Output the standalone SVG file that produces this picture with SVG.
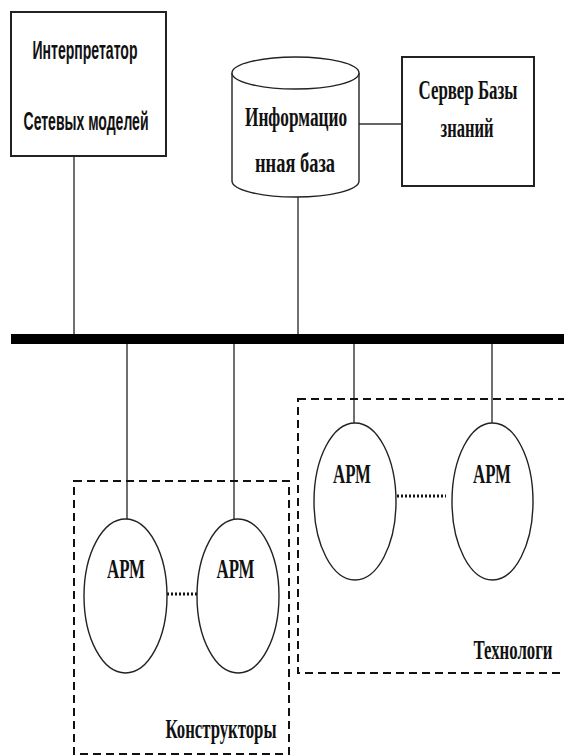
<svg xmlns="http://www.w3.org/2000/svg" width="564" height="756" viewBox="0 0 564 756">
<style>
.box{fill:#fff;stroke:#222;stroke-width:2}
.shape{fill:#fff;stroke:#222;stroke-width:1.4}
.conn{stroke:#333;stroke-width:1.4;fill:none}
.bus{stroke:#000;stroke-width:10}
.group{fill:none;stroke:#111;stroke-width:2;stroke-dasharray:8 5}
.dots{stroke:#111;stroke-width:3;stroke-dasharray:2 2}
.sans{font-family:"Liberation Sans","DejaVu Sans",sans-serif;font-weight:bold;font-size:15px;fill:#111;text-anchor:middle}
.serif{font-family:"Liberation Serif","DejaVu Serif",serif;font-weight:bold;font-size:16px;fill:#111;text-anchor:middle}
</style>
<rect width="564" height="756" fill="#fff"/>
<g id="connectors">
<line class="bus" x1="11" y1="339" x2="564" y2="339"/>
<line class="conn" x1="74" y1="156" x2="74" y2="334"/>
<line class="conn" x1="298" y1="197" x2="298" y2="334"/>
<line class="conn" x1="359" y1="124" x2="402" y2="124"/>
<line class="conn" x1="127" y1="344" x2="127" y2="519"/>
<line class="conn" x1="234" y1="344" x2="234" y2="519"/>
<line class="conn" x1="354" y1="344" x2="354" y2="423"/>
<line class="conn" x1="492" y1="344" x2="492" y2="423"/>
<line class="dots" x1="167" y1="594" x2="197" y2="594"/>
<line class="dots" x1="397" y1="496" x2="446" y2="496"/>
</g>
<g id="interpreter">
<rect class="box" x="11" y="12" width="155" height="144"/>
<text class="sans" transform="translate(85,59) scale(1,1.75)" textLength="105" lengthAdjust="spacingAndGlyphs">Интерпретатор</text>
<text class="sans" transform="translate(86,130) scale(1,1.75)" textLength="125" lengthAdjust="spacingAndGlyphs">Сетевых моделей</text>
</g>
<g id="infobase">
<path class="shape" d="M232,73 V181 A63.5,16 0 0 0 359,181 V73 A63.5,16 0 0 0 232,73 Z"/>
<path class="shape" d="M232,73 A63.5,16 0 0 0 359,73"/>
<text class="serif" transform="translate(296,126) scale(1,1.75)" textLength="102" lengthAdjust="spacingAndGlyphs">Информацио</text>
<text class="serif" transform="translate(295,172) scale(1,1.75)" textLength="80" lengthAdjust="spacingAndGlyphs">нная база</text>
</g>
<g id="server">
<rect class="box" x="402" y="57" width="132" height="129"/>
<text class="serif" transform="translate(468,99) scale(1,1.75)" textLength="99" lengthAdjust="spacingAndGlyphs">Сервер Базы</text>
<text class="serif" transform="translate(467,137) scale(1,1.75)" textLength="53" lengthAdjust="spacingAndGlyphs">знаний</text>
</g>
<g id="designers">
<rect class="group" x="74" y="481" width="215" height="273"/>
<text class="serif" transform="translate(221,738) scale(1,1.75)" textLength="111" lengthAdjust="spacingAndGlyphs">Конструкторы</text>
</g>
<g id="technologists">
<rect class="group" x="298" y="399" width="280" height="274"/>
<text class="serif" transform="translate(513,659) scale(1,1.75)" textLength="79" lengthAdjust="spacingAndGlyphs">Технологи</text>
</g>
<g id="arm1">
<ellipse class="shape" cx="125.5" cy="596" rx="41.5" ry="77"/>
<text class="serif" transform="translate(126,578) scale(1,1.75)" textLength="38" lengthAdjust="spacingAndGlyphs">АРМ</text>
</g>
<g id="arm2">
<ellipse class="shape" cx="238" cy="596" rx="41" ry="77"/>
<text class="serif" transform="translate(235.5,578) scale(1,1.75)" textLength="38" lengthAdjust="spacingAndGlyphs">АРМ</text>
</g>
<g id="arm3">
<ellipse class="shape" cx="355" cy="501.5" rx="41" ry="78.5"/>
<text class="serif" transform="translate(352,483) scale(1,1.75)" textLength="38" lengthAdjust="spacingAndGlyphs">АРМ</text>
</g>
<g id="arm4">
<ellipse class="shape" cx="492.5" cy="501.5" rx="40.5" ry="78.5"/>
<text class="serif" transform="translate(492,483) scale(1,1.75)" textLength="38" lengthAdjust="spacingAndGlyphs">АРМ</text>
</g>
</svg>
